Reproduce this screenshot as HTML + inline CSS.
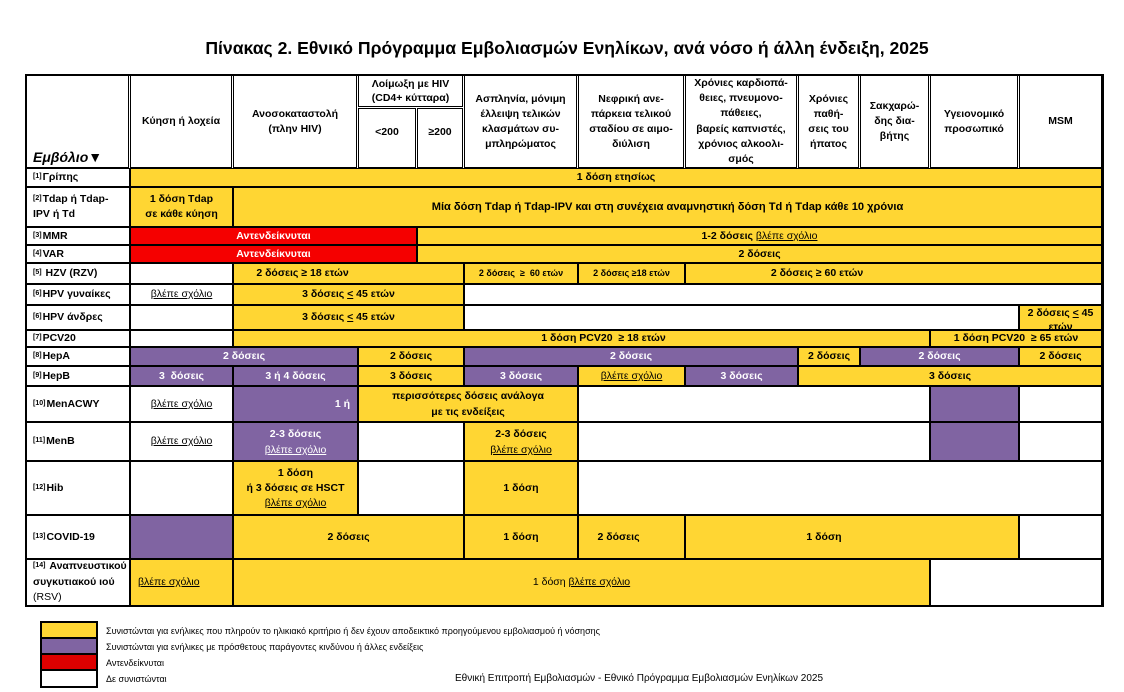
<!DOCTYPE html>
<html><head><meta charset="utf-8">
<style>
*{margin:0;padding:0}
body{width:1124px;height:692px;background:#fff;position:relative;overflow:hidden;font-family:"Liberation Sans","DejaVu Sans",sans-serif;color:#000}
.c{position:absolute;box-sizing:border-box;border:1px solid #000;display:flex;align-items:center;justify-content:center;text-align:center;font-weight:bold;font-size:10.5px;line-height:15px;white-space:nowrap;overflow:hidden}
.c>div{white-space:nowrap}
.h{line-height:15.2px}
.l{justify-content:flex-start;text-align:left;padding-left:6px}
.y{background:#FFD633}.p{background:#8064A2;color:#fff}.r{background:#F50000;color:#fff}.w{background:#fff}
sup{font-size:7px;vertical-align:top;position:relative;top:-1px;margin-right:1px}
.n{font-weight:normal}
.sm{font-size:9px}
.t{position:absolute;white-space:nowrap}
.lg{position:absolute;left:40px;width:58px;box-sizing:border-box;border:2px solid #000}
.lt{position:absolute;left:106px;font-size:9px;line-height:12px;white-space:nowrap}
</style></head><body>

<div class="t" style="left:0;width:1134px;top:38px;text-align:center;font-size:17.6px;font-weight:bold;line-height:20px">Πίνακας 2. Εθνικό Πρόγραμμα Εμβολιασμών Ενηλίκων, ανά νόσο ή άλλη ένδειξη, 2025</div>

<!-- header -->
<div class="c w" style="left:26px;top:75px;width:103px;height:93px;align-items:flex-end;justify-content:flex-start;padding-left:6px;padding-bottom:1px;font-size:14px;font-style:italic;line-height:18px"><div>Εμβόλιο▼</div></div>
<div class="c w" style="left:130px;top:75px;width:102px;height:93px"><div>Κύηση ή λοχεία</div></div>
<div class="c w" style="left:233px;top:75px;width:124px;height:93px"><div>Ανοσοκαταστολή<br>(πλην HIV)</div></div>
<div class="c w" style="left:358px;top:75px;width:105px;height:32px;line-height:14px"><div>Λοίμωξη με HIV<br>(CD4+ κύτταρα)</div></div>
<div class="c w" style="left:358px;top:108px;width:58px;height:60px;padding-bottom:12px"><div>&lt;200</div></div>
<div class="c w" style="left:417px;top:108px;width:46px;height:60px;padding-bottom:12px"><div>≥200</div></div>
<div class="c w" style="left:464px;top:75px;width:113px;height:93px"><div>Ασπληνία, μόνιμη<br>έλλειψη τελικών<br>κλασμάτων συ-<br>μπληρώματος</div></div>
<div class="c w" style="left:578px;top:75px;width:106px;height:93px"><div>Νεφρική ανε-<br>πάρκεια τελικού<br>σταδίου σε αιμο-<br>διύλιση</div></div>
<div class="c w h" style="left:685px;top:75px;width:112px;height:93px"><div>Χρόνιες καρδιοπά-<br>θειες, πνευμονο-<br>πάθειες,<br>βαρείς καπνιστές,<br>χρόνιος αλκοολι-<br>σμός</div></div>
<div class="c w" style="left:798px;top:75px;width:61px;height:93px"><div>Χρόνιες<br>παθή-<br>σεις του<br>ήπατος</div></div>
<div class="c w" style="left:860px;top:75px;width:69px;height:93px"><div>Σακχαρώ-<br>δης δια-<br>βήτης</div></div>
<div class="c w" style="left:930px;top:75px;width:88px;height:93px"><div>Υγειονομικό<br>προσωπικό</div></div>
<div class="c w" style="left:1019px;top:75px;width:83px;height:93px"><div>MSM</div></div>

<!-- row 1 -->
<div class="c w l" style="left:26px;top:168px;width:104px;height:19px"><div><sup>[1]</sup>Γρίπης</div></div>
<div class="c y" style="left:130px;top:168px;width:972px;height:19px"><div>1 δόση ετησίως</div></div>

<!-- row 2 -->
<div class="c w l" style="left:26px;top:187px;width:104px;height:40px"><div><sup>[2]</sup>Tdap ή Tdap-<br>IPV ή Td</div></div>
<div class="c y" style="left:130px;top:187px;width:103px;height:40px"><div>1 δόση Tdap<br>σε κάθε κύηση</div></div>
<div class="c y" style="left:233px;top:187px;width:869px;height:40px;font-size:11.1px"><div>Μία δόση Tdap ή Tdap-IPV και στη συνέχεια αναμνηστική δόση Td ή Tdap κάθε 10 χρόνια</div></div>

<!-- row 3 -->
<div class="c w l" style="left:26px;top:227px;width:104px;height:18px"><div><sup>[3]</sup>MMR</div></div>
<div class="c r" style="left:130px;top:227px;width:287px;height:18px"><div>Αντενδείκνυται</div></div>
<div class="c y" style="left:417px;top:227px;width:685px;height:18px"><div>1-2 δόσεις <u class="n">βλέπε σχόλιο</u></div></div>

<!-- row 4 -->
<div class="c w l" style="left:26px;top:245px;width:104px;height:18px"><div><sup>[4]</sup>VAR</div></div>
<div class="c r" style="left:130px;top:245px;width:287px;height:18px"><div>Αντενδείκνυται</div></div>
<div class="c y" style="left:417px;top:245px;width:685px;height:18px"><div>2 δόσεις</div></div>

<!-- row 5 -->
<div class="c w l" style="left:26px;top:263px;width:104px;height:21px"><div><sup>[5]</sup>&nbsp;HZV (RZV)</div></div>
<div class="c w" style="left:130px;top:263px;width:103px;height:21px"></div>
<div class="c y" style="left:233px;top:263px;width:231px;height:21px;padding-right:92px"><div>2 δόσεις ≥ 18 ετών</div></div>
<div class="c y sm" style="left:464px;top:263px;width:114px;height:21px"><div>2 δόσεις &nbsp;≥ &nbsp;60 ετών</div></div>
<div class="c y sm" style="left:578px;top:263px;width:107px;height:21px"><div>2 δόσεις ≥18 ετών</div></div>
<div class="c y" style="left:685px;top:263px;width:417px;height:21px;padding-right:153px"><div>2 δόσεις ≥ 60 ετών</div></div>

<!-- row 6 -->
<div class="c w l" style="left:26px;top:284px;width:104px;height:21px"><div><sup>[6]</sup>HPV γυναίκες</div></div>
<div class="c w" style="left:130px;top:284px;width:103px;height:21px"><div><u class="n">βλέπε σχόλιο</u></div></div>
<div class="c y" style="left:233px;top:284px;width:231px;height:21px"><div>3 δόσεις <u>&lt;</u> 45 ετών</div></div>
<div class="c w" style="left:464px;top:284px;width:638px;height:21px"></div>

<!-- row 7 -->
<div class="c w l" style="left:26px;top:305px;width:104px;height:25px"><div><sup>[6]</sup>HPV άνδρες</div></div>
<div class="c w" style="left:130px;top:305px;width:103px;height:25px"></div>
<div class="c y" style="left:233px;top:305px;width:231px;height:25px"><div>3 δόσεις <u>&lt;</u> 45 ετών</div></div>
<div class="c w" style="left:464px;top:305px;width:555px;height:25px"></div>
<div class="c y" style="left:1019px;top:305px;width:83px;height:25px;align-items:flex-start;line-height:14px"><div>2 δόσεις <u>&lt;</u> 45<br>ετών</div></div>

<!-- row 8 -->
<div class="c w l" style="left:26px;top:330px;width:104px;height:17px"><div><sup>[7]</sup>PCV20</div></div>
<div class="c w" style="left:130px;top:330px;width:103px;height:17px"></div>
<div class="c y" style="left:233px;top:330px;width:697px;height:17px;padding-left:44px"><div>1 δόση PCV20 &nbsp;≥ 18 ετών</div></div>
<div class="c y" style="left:930px;top:330px;width:172px;height:17px"><div>1 δόση PCV20 &nbsp;≥ 65 ετών</div></div>

<!-- row 9 -->
<div class="c w l" style="left:26px;top:347px;width:104px;height:19px"><div><sup>[8]</sup>HepA</div></div>
<div class="c p" style="left:130px;top:347px;width:228px;height:19px"><div>2 δόσεις</div></div>
<div class="c y" style="left:358px;top:347px;width:106px;height:19px"><div>2 δόσεις</div></div>
<div class="c p" style="left:464px;top:347px;width:334px;height:19px"><div>2 δόσεις</div></div>
<div class="c y" style="left:798px;top:347px;width:62px;height:19px"><div>2 δόσεις</div></div>
<div class="c p" style="left:860px;top:347px;width:159px;height:19px"><div>2 δόσεις</div></div>
<div class="c y" style="left:1019px;top:347px;width:83px;height:19px"><div>2 δόσεις</div></div>

<!-- row 10 -->
<div class="c w l" style="left:26px;top:366px;width:104px;height:20px"><div><sup>[9]</sup>HepB</div></div>
<div class="c p" style="left:130px;top:366px;width:103px;height:20px"><div>3 &nbsp;δόσεις</div></div>
<div class="c p" style="left:233px;top:366px;width:125px;height:20px"><div>3 ή 4 δόσεις</div></div>
<div class="c y" style="left:358px;top:366px;width:106px;height:20px"><div>3 δόσεις</div></div>
<div class="c p" style="left:464px;top:366px;width:114px;height:20px"><div>3 δόσεις</div></div>
<div class="c y" style="left:578px;top:366px;width:107px;height:20px"><div><u class="n">βλέπε σχόλιο</u></div></div>
<div class="c p" style="left:685px;top:366px;width:113px;height:20px"><div>3 δόσεις</div></div>
<div class="c y" style="left:798px;top:366px;width:304px;height:20px"><div>3 δόσεις</div></div>

<!-- row 11 -->
<div class="c w l" style="left:26px;top:386px;width:104px;height:36px"><div><sup>[10]</sup>MenACWY</div></div>
<div class="c w" style="left:130px;top:386px;width:103px;height:36px"><div><u class="n">βλέπε σχόλιο</u></div></div>
<div class="c p" style="left:233px;top:386px;width:125px;height:36px;justify-content:flex-end;padding-right:7px"><div>1 ή</div></div>
<div class="c y" style="left:358px;top:386px;width:220px;height:36px;line-height:16px"><div>περισσότερες δόσεις ανάλογα<br>με τις ενδείξεις</div></div>
<div class="c w" style="left:578px;top:386px;width:352px;height:36px"></div>
<div class="c p" style="left:930px;top:386px;width:89px;height:36px"></div>
<div class="c w" style="left:1019px;top:386px;width:83px;height:36px"></div>

<!-- row 12 -->
<div class="c w l" style="left:26px;top:422px;width:104px;height:39px"><div><sup>[11]</sup>MenB</div></div>
<div class="c w" style="left:130px;top:422px;width:103px;height:39px"><div><u class="n">βλέπε σχόλιο</u></div></div>
<div class="c p" style="left:233px;top:422px;width:125px;height:39px;line-height:16px"><div>2-3 δόσεις<br><u class="n">βλέπε σχόλιο</u></div></div>
<div class="c w" style="left:358px;top:422px;width:106px;height:39px"></div>
<div class="c y" style="left:464px;top:422px;width:114px;height:39px;line-height:16px"><div>2-3 δόσεις<br><u class="n">βλέπε σχόλιο</u></div></div>
<div class="c w" style="left:578px;top:422px;width:352px;height:39px"></div>
<div class="c p" style="left:930px;top:422px;width:89px;height:39px"></div>
<div class="c w" style="left:1019px;top:422px;width:83px;height:39px"></div>

<!-- row 13 -->
<div class="c w l" style="left:26px;top:461px;width:104px;height:54px"><div><sup>[12]</sup>Hib</div></div>
<div class="c w" style="left:130px;top:461px;width:103px;height:54px"></div>
<div class="c y" style="left:233px;top:461px;width:125px;height:54px"><div>1 δόση<br>ή 3 δόσεις σε HSCT<br><u class="n">βλέπε σχόλιο</u></div></div>
<div class="c w" style="left:358px;top:461px;width:106px;height:54px"></div>
<div class="c y" style="left:464px;top:461px;width:114px;height:54px"><div>1 δόση</div></div>
<div class="c w" style="left:578px;top:461px;width:524px;height:54px"></div>

<!-- row 14 -->
<div class="c w l" style="left:26px;top:515px;width:104px;height:44px"><div><sup>[13]</sup>COVID-19</div></div>
<div class="c p" style="left:130px;top:515px;width:103px;height:44px"></div>
<div class="c y" style="left:233px;top:515px;width:231px;height:44px"><div>2 δόσεις</div></div>
<div class="c y" style="left:464px;top:515px;width:114px;height:44px"><div>1 δόση</div></div>
<div class="c y" style="left:578px;top:515px;width:107px;height:44px;padding-right:26px"><div>2 δόσεις</div></div>
<div class="c y" style="left:685px;top:515px;width:334px;height:44px;padding-right:56px"><div>1 δόση</div></div>
<div class="c w" style="left:1019px;top:515px;width:83px;height:44px"></div>

<!-- row 15 -->
<div class="c w l" style="left:26px;top:559px;width:104px;height:47px;line-height:15.5px"><div><sup>[14]</sup>&nbsp;Αναπνευστικού<br>συγκυτιακού ιού<br><span class="n">(RSV)</span></div></div>
<div class="c y" style="left:130px;top:559px;width:103px;height:47px;justify-content:flex-start;padding-left:7px"><div><u class="n">βλέπε σχόλιο</u></div></div>
<div class="c y n" style="left:233px;top:559px;width:697px;height:47px"><div>1 δόση <u>βλέπε σχόλιο</u></div></div>
<div class="c w" style="left:930px;top:559px;width:172px;height:47px"></div>

<!-- outer frame -->
<div style="position:absolute;left:25px;top:74px;width:1079px;height:533px;box-sizing:border-box;border:2px solid #000"></div>

<!-- legend -->
<div class="lg" style="top:621px;height:18px;background:#FFD633"></div>
<div class="lg" style="top:637px;height:18px;background:#8064A2"></div>
<div class="lg" style="top:653px;height:18px;background:#DD0000"></div>
<div class="lg" style="top:669px;height:19px;background:#fff"></div>
<div class="lt" style="top:625px">Συνιστώνται για ενήλικες που πληρούν το ηλικιακό κριτήριο ή δεν έχουν αποδεικτικό προηγούμενου εμβολιασμού ή νόσησης</div>
<div class="lt" style="top:641px">Συνιστώνται για ενήλικες με πρόσθετους παράγοντες κινδύνου ή άλλες ενδείξεις</div>
<div class="lt" style="top:657px">Αντενδείκνυται</div>
<div class="lt" style="top:673px">Δε συνιστώνται</div>

<div class="t" style="left:455px;top:673px;font-size:10px;line-height:12px">Εθνική Επιτροπή Εμβολιασμών - Εθνικό Πρόγραμμα Εμβολιασμών Ενηλίκων 2025</div>

</body></html>
